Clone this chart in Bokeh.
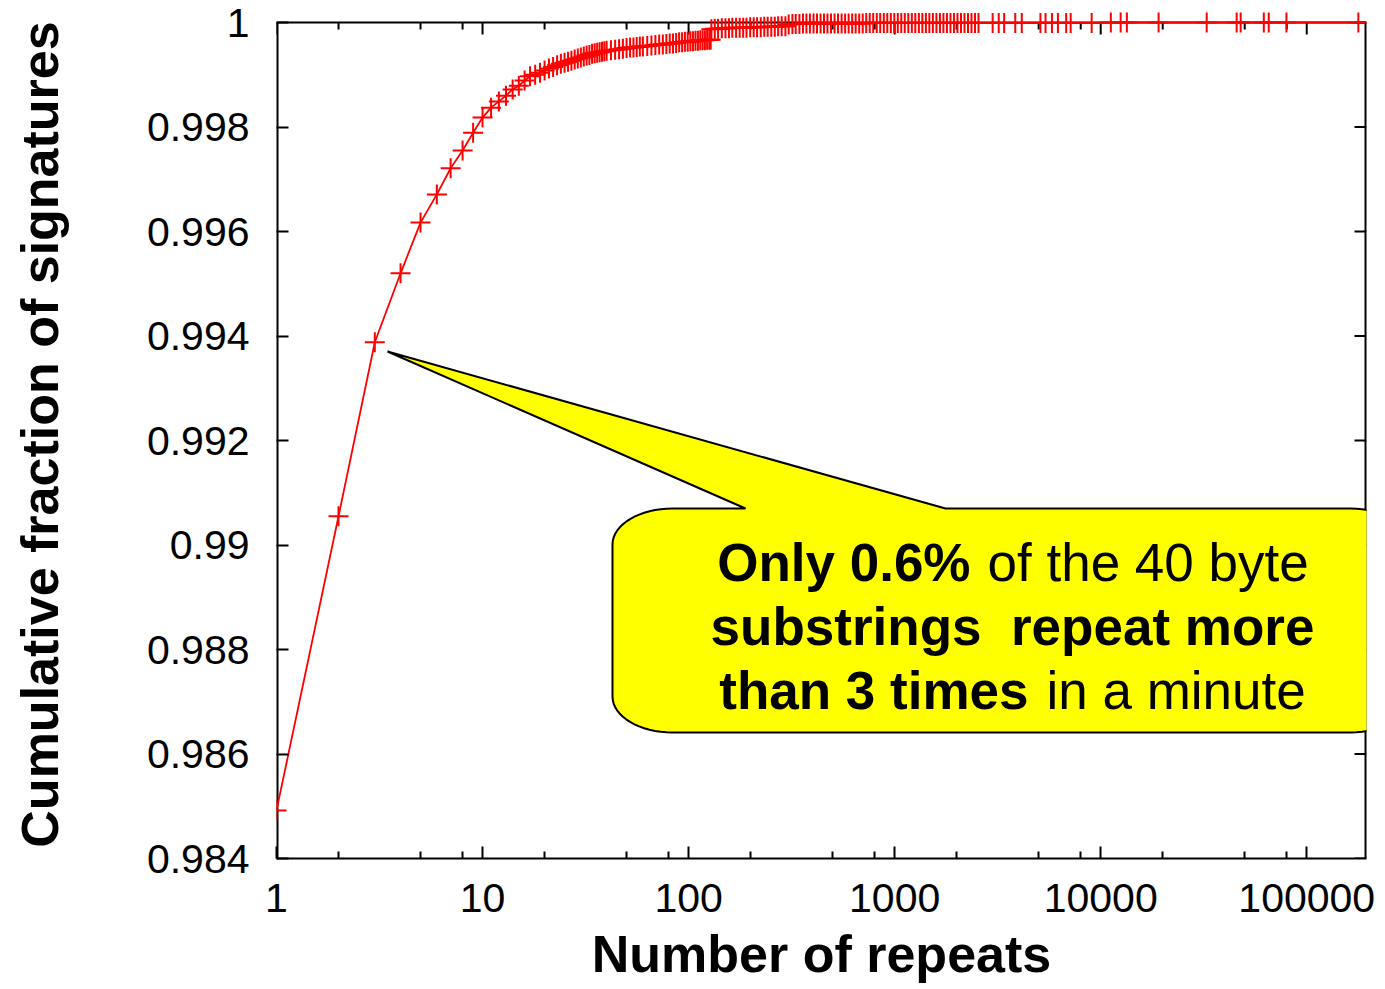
import math
from bokeh.plotting import figure
from bokeh.models import (Range1d, FixedTicker, CustomJSTickFormatter,
                          PolyAnnotation, Label, ColumnDataSource)
from bokeh.embed import file_html
from bokeh.resources import INLINE

# ---------------- data ----------------
rep_low = [1, 2, 3, 4, 5, 6, 7, 8, 9, 10, 11, 12, 13, 14, 15, 16, 17]
cdf_low = [0.98492, 0.99055, 0.99388, 0.99520, 0.99617, 0.99671, 0.99721, 0.99755, 0.99789,
           0.99818, 0.99837, 0.99849, 0.99860, 0.99872, 0.99879, 0.99889, 0.99897]

rep_mid = [18, 19, 20, 21, 22, 23, 24, 25, 26, 27, 28, 29, 30, 31, 32, 33, 34, 35, 36, 37,
           38, 39, 40, 42, 44, 46, 48, 50, 52, 54, 56, 58, 60, 63, 66, 69, 72, 75, 78, 81,
           84, 87, 90, 93, 96, 99, 102, 105, 108, 111, 114, 117, 120, 123, 126, 128]
cdf_mid = [0.99900, 0.99904, 0.99908, 0.99912, 0.99915, 0.99918, 0.99921, 0.99923, 0.99925, 0.99927,
           0.99929, 0.99931, 0.99933, 0.99935, 0.99937, 0.99938, 0.99940, 0.99941, 0.99942, 0.99943,
           0.99944, 0.99945, 0.99946, 0.99947, 0.99948, 0.99949, 0.99950, 0.99951, 0.99952, 0.99952,
           0.99953, 0.99954, 0.99954, 0.99955, 0.99956, 0.99957, 0.99958, 0.99958, 0.99959, 0.99960,
           0.99960, 0.99961, 0.99962, 0.99962, 0.99963, 0.99963, 0.99964, 0.99964, 0.99965, 0.99965,
           0.99966, 0.99966, 0.99966, 0.99967, 0.99967, 0.99967]

rep_high = [129, 134, 139, 145, 151, 157, 163, 170, 177, 184, 191, 199, 207, 215, 224, 233,
            242, 252, 262, 272, 283, 295, 306, 319, 331, 345,
            359, 373, 388, 404, 420, 437, 454, 472, 491, 511, 531, 553, 575, 598, 622, 647,
            673, 700, 728, 757, 787, 819, 851, 886, 921, 958, 996]
cdf_high = [0.99987, 0.99988, 0.99988, 0.99989, 0.99989, 0.99989, 0.99990, 0.99990, 0.99990, 0.99990,
            0.99990, 0.99991, 0.99991, 0.99991, 0.99991, 0.99992, 0.99992, 0.99992, 0.99992, 0.99993,
            0.99993, 0.99993, 0.99996, 0.99997, 0.99997, 0.99997,
            0.99998, 0.99998, 0.99998, 0.99998, 0.99998, 0.99998, 0.99998, 0.99998, 0.99998, 0.99998,
            0.99998, 0.99998, 0.99998, 0.99998, 0.99998, 0.99998, 0.99998, 0.99998,
            0.99999, 0.99999, 0.99999, 0.99999, 0.99999, 0.99999, 0.99999, 0.99999, 0.99999]

rep_tail = [1036, 1077, 1120, 1165, 1212, 1260, 1311, 1363, 1418, 1474, 1533, 1595, 1659,
            1725, 1794, 1866, 1940, 2018, 2099, 2183, 2270, 2361, 2455, 2553,
            2990, 3200, 3400, 3850, 4140, 5100, 5400, 5800, 6200, 6800, 7150, 9040,
            11200, 12500, 13400, 19100, 32700, 45700, 47800, 61900, 65400, 79700, 178000]
cdf_tail = [0.99999, 0.99999, 0.99999, 0.99999, 0.99999, 0.99999, 0.99999, 0.99999, 0.99999,
            0.99999, 0.99999, 0.99999, 0.99999, 0.99999, 0.99999, 0.99999, 0.99999, 0.99999,
            0.99999, 0.99999, 0.99999, 0.99999, 0.99999, 0.99999,
            0.99999, 0.99999, 0.99999, 0.99999, 0.99999, 0.99999, 0.99999, 0.99999, 0.99999,
            0.99999, 0.99999, 0.99999, 1.0, 1.0, 1.0, 1.0, 1.0, 1.0, 1.0, 1.0, 1.0, 1.0, 1.0]

repeats = rep_low + rep_mid + rep_high + rep_tail
cum_fraction = cdf_low + cdf_mid + cdf_high + cdf_tail

x_major_ticks = [1, 10, 100, 1000, 10000, 100000]
x_minor_ticks = [2, 5, 8, 20, 50, 80, 200, 500, 800, 2000, 5000, 8000,
                 20000, 50000, 80000]
y_ticks = [0.984, 0.986, 0.988, 0.990, 0.992, 0.994, 0.996, 0.998, 1.0]

x_label = "Number of repeats"
y_label = "Cumulative fraction of signatures"
note_lines = [("Only 0.6%", "of the 40 byte"),
              ("substrings\u00a0 repeat more", ""),
              ("than 3 times", "in a minute")]

X_MIN, X_MAX = 1, 1.95e5
Y_MIN, Y_MAX = 0.984, 1.0

# ---------------- layout (page pixels) ----------------
FL, FR, FT, FB = 276, 1366, 22, 858      # plot box (axes) in page pixels
CLIP_TOP = 10                            # frame extends a bit above the box so markers overflow
W, H = 1383, 987
PX_Y = (Y_MAX - Y_MIN) / (FB - FT)       # data units per pixel (y)
Y_TOP = Y_MAX + (FT - CLIP_TOP) * PX_Y

p = figure(width=W, height=H, x_axis_type="log",
           x_range=Range1d(X_MIN, X_MAX), y_range=Range1d(Y_MIN, Y_TOP),
           output_backend="svg", toolbar_location=None,
           min_border_left=FL, min_border_right=W - FR,
           min_border_top=CLIP_TOP, min_border_bottom=H - FB)
p.xgrid.visible = False
p.ygrid.visible = False
p.outline_line_color = None
p.background_fill_color = "white"
p.border_fill_color = "white"


def px2x(px):
    lo, hi = math.log10(X_MIN), math.log10(X_MAX)
    return 10 ** (lo + (px - FL) / (FR - FL) * (hi - lo))


def py2y(py):
    return Y_MAX - (py - FT) * PX_Y


xt = FixedTicker(ticks=x_major_ticks, minor_ticks=x_minor_ticks)
yt = FixedTicker(ticks=y_ticks)
xfmt = CustomJSTickFormatter(code="return Math.round(tick).toString();")
yfmt = CustomJSTickFormatter(code="return Number(tick.toFixed(3)).toString();")

TICK_FONT = "Liberation Sans"
MAJ, MIN = 12, 7

for ax in (p.xaxis[0], p.yaxis[0]):
    ax.axis_line_color = "black"
    ax.axis_line_width = 2
    ax.major_tick_line_color = "black"
    ax.major_tick_line_width = 2
    ax.minor_tick_line_color = "black"
    ax.minor_tick_line_width = 2
    ax.major_tick_in = MAJ
    ax.major_tick_out = 0
    ax.minor_tick_in = MIN
    ax.minor_tick_out = 0
    ax.major_label_text_font = TICK_FONT
    ax.major_label_text_font_size = "41px"
    ax.major_label_text_color = "black"
    ax.axis_label_text_font = TICK_FONT
    ax.axis_label_text_font_style = "bold"
    ax.axis_label_text_color = "black"

xa = p.xaxis[0]
xa.ticker = xt
xa.formatter = xfmt
xa.major_label_standoff = 25
xa.axis_label = x_label
xa.axis_label_text_font_size = "52px"
xa.axis_label_standoff = 10

ya = p.yaxis[0]
ya.ticker = yt
ya.formatter = yfmt
ya.minor_tick_in = 0
ya.axis_line_color = None
ya.major_label_standoff = 27
ya.axis_label = y_label
ya.axis_label_text_font_size = "52px"
ya.axis_label_standoff = 75

# box border (left, right, top) and mirrored ticks
bx0 = [X_MIN, X_MAX, X_MIN]
by0 = [Y_MIN, Y_MIN, Y_MAX]
bx1 = [X_MIN, X_MAX, X_MAX]
by1 = [Y_MAX, Y_MAX, Y_MAX]
p.segment(x0=bx0[:2], y0=by0[:2], x1=bx1[:2], y1=by1[:2], line_color="black", line_width=4)
p.segment(x0=bx0[2:], y0=by0[2:], x1=bx1[2:], y1=by1[2:], line_color="black", line_width=2)

tx = x_major_ticks + x_minor_ticks
tlen = [MAJ] * len(x_major_ticks) + [MIN] * len(x_minor_ticks)
p.segment(x0=tx, y0=[Y_MAX] * len(tx), x1=tx, y1=[Y_MAX - L * PX_Y for L in tlen],
          line_color="black", line_width=2)
p.segment(x0=[X_MAX] * len(y_ticks), y0=y_ticks, x1=[px2x(FR - MAJ)] * len(y_ticks), y1=y_ticks,
          line_color="black", line_width=2)

src = ColumnDataSource(data=dict(x=repeats, y=cum_fraction))
RED = "#ff0000"
p.line("x", "y", source=src, line_color=RED, line_width=1.8)
p.scatter("x", "y", source=src, marker="cross", size=20, line_color=RED, line_width=2)

# ---------------- callout ----------------
BL, BR, BT, BB = 612, 1410, 508, 732
RX, RY = 60, 36
TIP = (387, 351)
TAIL_A, TAIL_B = 745, 945
pts = []


def arc(cx, cy, a0, a1, n=16):
    for i in range(n + 1):
        t = math.radians(a0 + (a1 - a0) * i / n)
        pts.append((cx + RX * math.cos(t), cy - RY * math.sin(t)))


pts.append((BL + RX, BT))
pts.append((TAIL_A, BT))
pts.append(TIP)
pts.append((TAIL_B, BT))
arc(BR - RX, BT + RY, 90, 0)
arc(BR - RX, BB - RY, 0, -90)
arc(BL + RX, BB - RY, -90, -180)
arc(BL + RX, BT + RY, 180, 90)

poly = PolyAnnotation(xs=[px2x(a) for a, b in pts], ys=[py2y(b) for a, b in pts],
                      fill_color="#ffff00", fill_alpha=1.0,
                      line_color="black", line_alpha=1.0, line_width=2)
p.add_layout(poly)

NOTE_FONT = "Liberation Sans"
NOTE_SIZE = "53px"
centers = [562, 626, 690]
bold_end = [970, None, 1028]
normal_start = [987, None, 1046]
for (bold, normal), cy, be, ns in zip(note_lines, centers, bold_end, normal_start):
    if be is None:
        p.add_layout(Label(x=px2x(1012), y=py2y(cy), text=bold, text_align="center",
                           text_baseline="middle", text_font=NOTE_FONT,
                           text_font_size=NOTE_SIZE, text_font_style="bold", text_color="black"))
    else:
        p.add_layout(Label(x=px2x(be), y=py2y(cy), text=bold, text_align="right",
                           text_baseline="middle", text_font=NOTE_FONT,
                           text_font_size=NOTE_SIZE, text_font_style="bold", text_color="black"))
        p.add_layout(Label(x=px2x(ns), y=py2y(cy), text=normal, text_align="left",
                           text_baseline="middle", text_font=NOTE_FONT,
                           text_font_size=NOTE_SIZE, text_font_style="normal", text_color="black"))

open("out.html", "w").write(file_html(p, INLINE))
